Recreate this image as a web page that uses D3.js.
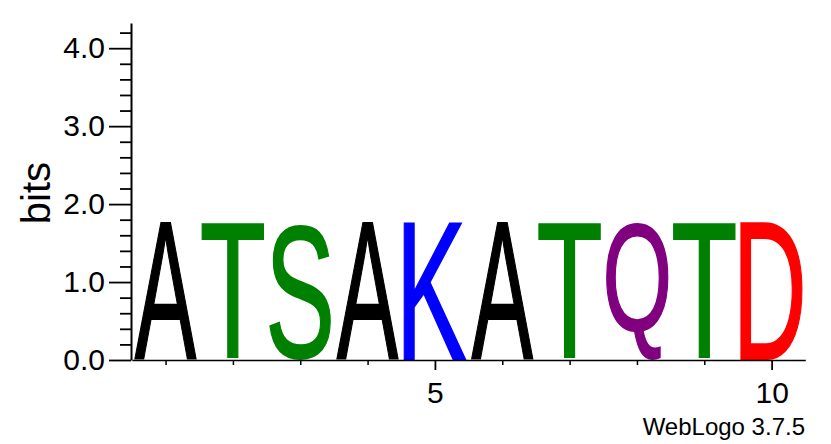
<!DOCTYPE html>
<html><head><meta charset="utf-8">
<script src="https://cdn.jsdelivr.net/npm/d3@7"></script>
<style>body{margin:0;background:#fff} svg{display:block}</style>
</head><body><svg id="c" width="831" height="444"></svg>
<script>
const positions = [1, 2, 3, 4, 5, 6, 7, 8, 9, 10];
const letters = ["A", "T", "S", "A", "K", "A", "T", "Q", "T", "D"];
const heights = [1.76, 1.76, 1.76, 1.76, 1.76, 1.76, 1.76, 1.76, 1.76, 1.76];
const yMajorTicks = [0, 1, 2, 3, 4];
const yMinorTicks = [0.2, 0.4, 0.6, 0.8, 1.2, 1.4, 1.6, 1.8, 2.2, 2.4, 2.6, 2.8, 3.2, 3.4, 3.6, 3.8, 4.2];
const xLabelTicks = [5, 10];
const colorMap = {A: "#000000", T: "#008000", S: "#008000", K: "#0000ff", Q: "#800080", D: "#ff0000"};
const yMax = Math.log2(20);

const svg = d3.select("#c");
const FONT = "'Liberation Sans', Arial, Helvetica, sans-serif";

const x = d3.scaleLinear().domain([0.5, 10.5]).range([131.9, 805.3]);
const y = d3.scaleLinear().domain([0, yMax]).range([360, 360 - yMax * 77.95]);

// letters
const cv = document.createElement("canvas");
const ctx = cv.getContext("2d");
ctx.font = "100px " + FONT;
const SW = 1.6; // extra stroke to thicken glyphs
const gL = svg.append("g");
positions.forEach((p, i) => {
  const ch = letters[i];
  const m = ctx.measureText(ch);
  const L = m.actualBoundingBoxLeft, R = m.actualBoundingBoxRight;
  const A = m.actualBoundingBoxAscent, D = m.actualBoundingBoxDescent;
  const X0 = x(p - 0.5) + 2 + SW / 2, X1 = x(p + 0.5) - 2 - SW / 2;
  const Y0 = y(heights[i]) + SW / 2, Y1 = y(0) - SW / 2;
  const sx = (X1 - X0) / (L + R), sy = (Y1 - Y0) / (A + D);
  gL.append("text")
    .attr("x", 0).attr("y", 0)
    .attr("font-family", FONT).attr("font-size", 100)
    .attr("fill", colorMap[ch])
    .attr("stroke", colorMap[ch]).attr("stroke-width", SW)
    .attr("stroke-linejoin", "miter")
    .attr("vector-effect", "non-scaling-stroke")
    .attr("transform", `translate(${X0 + L * sx},${Y0 + A * sy}) scale(${sx},${sy})`)
    .text(ch);
});

// y axis
const gy = svg.append("g").attr("transform", "translate(131,0)");
gy.call(d3.axisLeft(y).tickValues(yMajorTicks).tickFormat(d3.format(".1f")).tickSize(22).tickSizeOuter(0).tickPadding(4));
gy.selectAll("text").attr("font-size", 30).attr("font-family", FONT).attr("fill", "#000");
gy.selectAll("line").attr("stroke-width", 1.8);
gy.select(".domain").attr("stroke-width", 2);
const gym = svg.append("g").attr("transform", "translate(131,0)");
gym.call(d3.axisLeft(y).tickValues(yMinorTicks).tickFormat("").tickSize(11).tickSizeOuter(0));
gym.select(".domain").remove();
gym.selectAll("text").remove();
gym.selectAll("line").attr("stroke-width", 1.8);

// x axis
const gx = svg.append("g").attr("transform", "translate(0,360)");
gx.call(d3.axisBottom(x).tickValues(xLabelTicks).tickSize(10).tickSizeOuter(0).tickPadding(12));
gx.selectAll("text").attr("font-size", 30).attr("font-family", FONT).attr("fill", "#000");
gx.selectAll("line").attr("stroke-width", 1.8);
gx.select(".domain").attr("stroke-width", 1.6);
const gxm = svg.append("g").attr("transform", "translate(0,360)");
gxm.call(d3.axisBottom(x).tickValues(positions.filter(p => !xLabelTicks.includes(p))).tickFormat("").tickSize(5).tickSizeOuter(0));
gxm.select(".domain").remove();
gxm.selectAll("text").remove();
gxm.selectAll("line").attr("stroke-width", 1.5);

// labels
svg.append("text").attr("transform", "translate(49.5,193) rotate(-90)")
  .attr("text-anchor", "middle").attr("font-family", FONT).attr("font-size", 40).text("bits");
svg.append("text").attr("x", 805).attr("y", 435)
  .attr("text-anchor", "end").attr("font-family", FONT).attr("font-size", 24).text("WebLogo 3.7.5");
</script></body></html>
